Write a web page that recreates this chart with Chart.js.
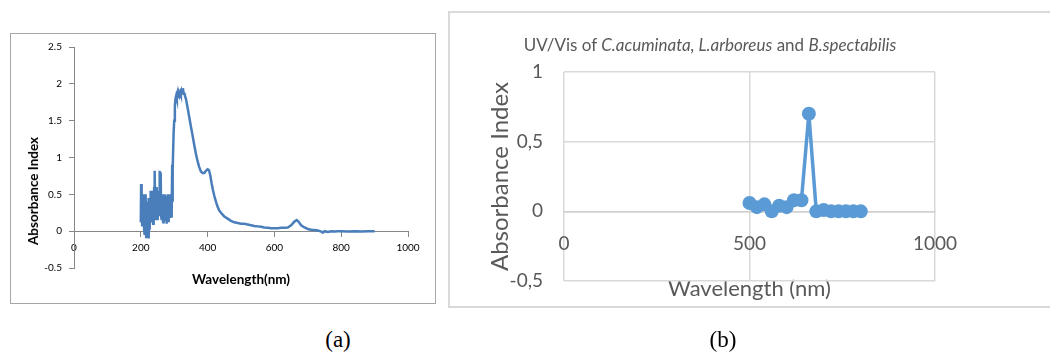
<!DOCTYPE html>
<html lang="en">
<head>
<meta charset="UTF-8">
<title>UV/Vis absorbance spectra</title>
<script src="https://cdn.jsdelivr.net/npm/chart.js"></script>
<style>
  body { margin: 0; width: 1050px; height: 358px; overflow: hidden; background: #fff; position: relative; font-family: Lato, sans-serif; }
  .caixa { position: absolute; box-sizing: border-box; }
  #caixaA { left: 10px; top: 33px; width: 426px; height: 271px; border: 1px solid #a6a6a6; }
  #caixaB { left: 448px; top: 11px; width: 640px; height: 297px; border: 2px solid #d9d9d9; }
  canvas { position: absolute; }
  #chartA { left: 10px; top: 33px; }
  #chartB { left: 448px; top: 11px; }
  .tituloYA { position: absolute; left: 33px; top: 191px; transform: translate(-50%, -50%) rotate(-90deg); white-space: nowrap; font-weight: bold; font-size: 13.5px; line-height: 16px; color: #000; }
  .tituloB { position: absolute; left: 460px; width: 500px; top: 34px; text-align: center; font-size: 17px; line-height: 21px; color: #595959; }
  .legenda { position: absolute; top: 327px; width: 60px; text-align: center; font-family: "Liberation Serif", serif; font-size: 23px; line-height: 26px; color: #000; }
</style>
</head>
<body>
  <div class="caixa" id="caixaA"></div>
  <div class="caixa" id="caixaB"></div>
  <canvas id="chartA" width="425" height="290"></canvas>
  <canvas id="chartB" width="602" height="360"></canvas>
  <div class="tituloYA">Absorbance Index</div>
  <div class="tituloB">UV/Vis of <i>C.acuminata, L.arboreus</i> and <i>B.spectabilis</i></div>
  <div class="legenda" style="left:308px">(a)</div>
  <div class="legenda" style="left:693px">(b)</div>

<script>
  // (a) espectro completo
  const wlA = [
    200, 201, 202, 203, 204, 205, 206, 207, 208, 209, 210, 211, 212, 213, 214, 215, 216, 217, 218, 219,
    220, 221, 222, 223, 224, 225, 226, 227, 228, 229, 230, 231, 232, 233, 234, 235, 236, 237, 238, 239,
    240, 241, 242, 243, 244, 245, 246, 247, 248, 249, 250, 251, 252, 253, 254, 255, 256, 257, 258, 259,
    260, 261, 262, 263, 264, 265, 266, 267, 268, 269, 270, 271, 272, 273, 274, 275, 276, 277, 278, 279,
    280, 281, 282, 283, 284, 285, 286, 287, 288, 289, 290, 291, 292, 293, 294, 295, 296, 298, 300, 302,
    304, 306, 308, 310, 312, 314, 316, 318, 320, 322, 324, 326, 328, 330, 332, 335, 340, 345, 350, 355,
    360, 365, 370, 375, 380, 385, 390, 395, 400, 404, 408, 412, 416, 420, 425, 430, 435, 440, 450, 460,
    470, 480, 490, 500, 510, 520, 530, 540, 550, 560, 570, 580, 590, 600, 610, 620, 630, 640, 650, 660,
    667, 672, 680, 690, 700, 710, 720, 730, 740, 745, 750, 760, 770, 780, 790, 800, 820, 840, 860, 880, 900
  ];
  const absA = [
    0.12, 0.64, 0.15, 0.55, 0.08, 0.42, 0.18, 0.5, 0.1, 0.35, 0.02, 0.45, -0.05, 0.3, 0.12, 0.5, -0.08, 0.25, 0.05, 0.4,
    -0.02, 0.3, 0.15, 0.45, -0.1, 0.2, 0.35, 0.02, 0.4, 0.15, 0.55, 0.2, 0.5, 0.12, 0.38, 0.2, 0.55, 0.1, 0.45, 0.25,
    0.6, 0.2, 0.82, 0.3, 0.5, 0.15, 0.45, 0.3, 0.6, 0.2, 0.4, 0.15, 0.55, 0.28, 0.45, 0.22, 0.82, 0.25, 0.7, 0.3,
    0.8, 0.2, 0.45, 0.15, 0.5, 0.25, 0.4, 0.12, 0.45, 0.2, 0.5, 0.3, 0.45, 0.15, 0.4, 0.25, 0.48, 0.1, 0.45, 0.3,
    0.5, 0.2, 0.42, 0.12, 0.48, 0.25, 0.5, 0.18, 0.45, 0.3, 0.5, 0.2, 0.45, 0.25, 0.9, 0.4, 0.85, 1.3, 1.5, 1.7,
    1.8, 1.84, 1.8, 1.86, 1.82, 1.87, 1.84, 1.88, 1.85, 1.9, 1.87, 1.94, 1.88, 1.87, 1.84, 1.8, 1.68, 1.55, 1.42, 1.3,
    1.17, 1.05, 0.95, 0.87, 0.81, 0.79, 0.79, 0.82, 0.84, 0.83, 0.76, 0.65, 0.56, 0.48, 0.4, 0.33, 0.28, 0.25, 0.2, 0.17,
    0.14, 0.12, 0.11, 0.1, 0.1, 0.09, 0.08, 0.07, 0.065, 0.06, 0.05, 0.045, 0.04, 0.04, 0.04, 0.045, 0.045, 0.05, 0.08, 0.13,
    0.15, 0.13, 0.08, 0.05, 0.03, 0.02, 0.015, 0.01, -0.005, -0.02, 0, -0.01, 0, -0.005, 0, 0, -0.005, 0, -0.005, 0, 0
  ];

  // (b) pontos medidos
  const wlB = [500, 520, 540, 560, 580, 600, 620, 640, 660, 680, 700, 720, 740, 760, 780, 800];
  const absB = [0.06, 0.03, 0.05, 0.0, 0.04, 0.03, 0.08, 0.08, 0.7, 0.0, 0.01, 0.0, 0.0, 0.0, 0.0, 0.0];

  const ticksXA = [0, 200, 400, 600, 800, 1000];
  const ticksYA = [-0.5, 0, 0.5, 1, 1.5, 2, 2.5];
  const ticksXB = [0, 500, 1000];
  const ticksYB = [-0.5, 0, 0.5, 1];

  const pares = (xs, ys) => xs.map((x, i) => ({ x: x, y: ys[i] }));

  // Gráfico (a)
  new Chart(document.getElementById('chartA'), {
    type: 'line',
    data: {
      datasets: [{
        data: pares(wlA, absA),
        borderColor: '#4a7ebb',
        borderWidth: 2.5,
        pointRadius: 0,
        tension: 0,
        fill: false
      }]
    },
    options: {
      responsive: false,
      animation: false,
      layout: { padding: { left: 10, top: 14, right: 27, bottom: 55 } },
      plugins: { legend: { display: false }, tooltip: { enabled: false } },
      scales: {
        x: {
          type: 'linear',
          position: { y: 0 },
          min: ticksXA[0],
          max: ticksXA[ticksXA.length - 1],
          afterBuildTicks: s => { s.ticks = ticksXA.map(v => ({ value: v })); },
          ticks: { padding: 6, color: '#000', font: { family: 'Lato', size: 10 }, callback: v => String(v) },
          grid: { drawOnChartArea: false, drawTicks: true, tickLength: 5, color: '#868686' },
          border: { display: true, color: '#868686' },
          title: { display: true, text: 'Wavelength(nm)', color: '#000', font: { family: 'Lato', size: 13.5, weight: 'bold' }, padding: { top: 11, bottom: 0 } }
        },
        y: {
          min: ticksYA[0],
          max: ticksYA[ticksYA.length - 1],
          afterBuildTicks: s => { s.ticks = ticksYA.map(v => ({ value: v })); },
          afterFit: s => { s.width = 54; },
          ticks: { padding: 7, color: '#000', font: { family: 'Lato', size: 10 }, callback: v => String(v) },
          grid: { drawOnChartArea: false, drawTicks: true, tickLength: 5, color: '#868686' },
          border: { display: true, color: '#868686' },
          title: { display: false }
        }
      }
    }
  });

  // Gráfico (b)
  new Chart(document.getElementById('chartB'), {
    type: 'line',
    data: {
      datasets: [{
        data: pares(wlB, absB),
        borderColor: '#5b9bd5',
        backgroundColor: '#5b9bd5',
        borderWidth: 3.5,
        pointRadius: 7,
        pointBorderWidth: 0,
        pointBackgroundColor: '#5b9bd5',
        tension: 0,
        fill: false
      }]
    },
    options: {
      responsive: false,
      animation: false,
      layout: { padding: { left: 20, top: 61, right: 115, bottom: 90 } },
      plugins: { legend: { display: false }, tooltip: { enabled: false } },
      scales: {
        x: {
          type: 'linear',
          position: { y: 0 },
          min: ticksXB[0],
          max: ticksXB[ticksXB.length - 1],
          afterBuildTicks: s => { s.ticks = ticksXB.map(v => ({ value: v })); },
          ticks: { padding: 21, color: '#595959', font: { family: 'Lato', size: 19 }, callback: v => String(v) },
          grid: { drawOnChartArea: true, drawTicks: false, color: '#d9d9d9', lineWidth: 1.5 },
          border: { display: true, color: '#d0d0d0', width: 1.5 },
          title: { display: true, text: 'Wavelength (nm)', color: '#595959', font: { family: 'Lato', size: 22 }, padding: { top: 0, bottom: 0 } }
        },
        y: {
          min: ticksYB[0],
          max: ticksYB[ticksYB.length - 1],
          afterBuildTicks: s => { s.ticks = ticksYB.map(v => ({ value: v })); },
          afterFit: s => { s.width = 96; },
          ticks: { padding: 21, color: '#595959', font: { family: 'Lato', size: 19 }, callback: v => String(v).replace('.', ',') },
          grid: { drawOnChartArea: true, drawTicks: false, color: '#d9d9d9', lineWidth: 1.5 },
          border: { display: false },
          title: { display: true, text: 'Absorbance Index', color: '#595959', font: { family: 'Lato', size: 24 }, padding: { top: 18, bottom: 0 } }
        }
      }
    }
  });
</script>
</body>
</html>
